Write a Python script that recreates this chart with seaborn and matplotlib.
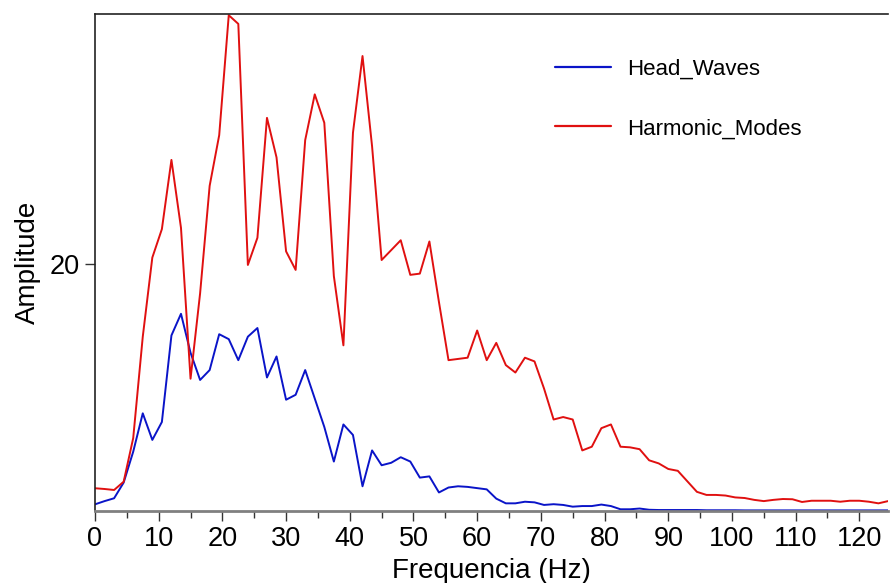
import numpy as np
import pandas as pd
import matplotlib
matplotlib.use("Agg")
import matplotlib.pyplot as plt
import seaborn as sns
from matplotlib.ticker import MultipleLocator, FixedLocator
from matplotlib import font_manager

freq_step = 1.5
head_waves = [0.54, 0.8, 1.03, 2.3, 4.8, 7.9, 5.75, 7.2, 14.2, 15.95,
              12.8, 10.6, 11.4, 14.3, 13.9, 12.2, 14.1, 14.8, 10.8, 12.5,
              9.0, 9.4, 11.4, 9.1, 6.8, 4.0, 7.0, 6.15, 2.0, 4.9,
              3.7, 3.9, 4.35, 4.0, 2.7, 2.8, 1.5, 1.9, 2.0, 1.95,
              1.85, 1.75, 1.0, 0.62, 0.62, 0.75, 0.7, 0.49, 0.55, 0.49,
              0.35, 0.4, 0.4, 0.52, 0.4, 0.14, 0.14, 0.2, 0.1, 0.08,
              0.08, 0.08, 0.08, 0.08, 0.06, 0.06, 0.06, 0.06, 0.05, 0.05,
              0.05, 0.05, 0.05, 0.05, 0.05, 0.05, 0.05, 0.05, 0.05, 0.05,
              0.05, 0.05, 0.05, 0.05]
harmonic_modes = [1.84, 1.78, 1.7, 2.37, 5.9, 14.1, 20.5, 22.8, 28.4, 22.9,
                  10.7, 17.6, 26.3, 30.4, 40.1, 39.4, 19.9, 22.1, 31.8, 28.6,
                  21.0, 19.5, 30.0, 33.7, 31.4, 19.0, 13.4, 30.6, 36.8, 29.5,
                  20.3, 21.1, 21.9, 19.1, 19.2, 21.8, 16.9, 12.2, 12.3, 12.4,
                  14.6, 12.2, 13.6, 11.8, 11.2, 12.4, 12.1, 9.9, 7.4, 7.6,
                  7.4, 4.9, 5.2, 6.7, 7.0, 5.2, 5.15, 5.0, 4.1, 3.85,
                  3.4, 3.25, 2.4, 1.55, 1.3, 1.3, 1.25, 1.1, 1.05, 0.9,
                  0.8, 0.9, 0.97, 0.95, 0.73, 0.83, 0.83, 0.83, 0.75, 0.83,
                  0.83, 0.75, 0.62, 0.8]
series_names = ["Head_Waves", "Harmonic_Modes"]
series_colors = ["#0a14c8", "#e01010"]
x_ticks = [0, 10, 20, 30, 40, 50, 60, 70, 80, 90, 100, 110, 120]
y_ticks = [20]

freq = np.arange(len(head_waves)) * freq_step
df = pd.concat([
    pd.DataFrame({"Frequencia": freq, "Amplitude": head_waves, "serie": series_names[0]}),
    pd.DataFrame({"Frequencia": freq, "Amplitude": harmonic_modes, "serie": series_names[1]}),
])

sns.set_theme(style="white")
names = {f.name for f in font_manager.fontManager.ttflist}
fam = ["Liberation Sans Narrow", "Liberation Sans", "DejaVu Sans"]
fam = [f for f in fam if f in names] + ["DejaVu Sans"]
plt.rcParams["font.family"] = fam
plt.rcParams["text.color"] = "black"
plt.rcParams["axes.labelcolor"] = "black"
plt.rcParams["xtick.color"] = "black"
plt.rcParams["ytick.color"] = "black"

fig = plt.figure(figsize=(8.9, 5.83), dpi=100)
ax = fig.add_axes([95 / 890, (583 - 511) / 583, (888 - 95) / 890, (511 - 14) / 583])
sns.lineplot(data=df, x="Frequencia", y="Amplitude", hue="serie",
             palette=dict(zip(series_names, series_colors)), linewidth=1.4,
             ax=ax, legend=True)

ax.set_xlim(0, freq[-1])
ax.set_ylim(0, 40.2)
ax.xaxis.set_major_locator(FixedLocator(x_ticks))
ax.xaxis.set_minor_locator(MultipleLocator(5))
ax.yaxis.set_major_locator(FixedLocator(y_ticks))
ax.set_xticklabels([str(t) for t in x_ticks])
ax.set_yticklabels([str(t) for t in y_ticks])

ax.tick_params(axis="x", which="major", direction="out", length=7, width=1,
               color="#333333", labelcolor="black", labelsize=19.5, pad=4, bottom=True)
ax.tick_params(axis="x", which="minor", direction="out", length=5, width=1,
               color="#333333", bottom=True)
ax.tick_params(axis="y", which="major", direction="out", length=7, width=1,
               color="#333333", labelcolor="black", labelsize=19.5, pad=4, left=True)

for side in ["left", "top"]:
    ax.spines[side].set_color("#222222")
    ax.spines[side].set_linewidth(1.2)
ax.spines["bottom"].set_color("#808080")
ax.spines["bottom"].set_linewidth(2)
ax.spines["right"].set_visible(False)

ax.set_xlabel("Frequencia (Hz)", fontsize=20, labelpad=4, color="black")
ax.set_ylabel("Amplitude", fontsize=20, labelpad=6, color="black")

leg = ax.legend(loc="upper left", bbox_to_anchor=(0.555, 0.951), frameon=False,
                fontsize=16, handlelength=2.5, handletextpad=0.75,
                labelspacing=1.75, title=None)
for t in leg.get_texts():
    t.set_color("black")
for h in leg.get_lines():
    h.set_linewidth(1.6)

fig.savefig("out.png", dpi=100)
